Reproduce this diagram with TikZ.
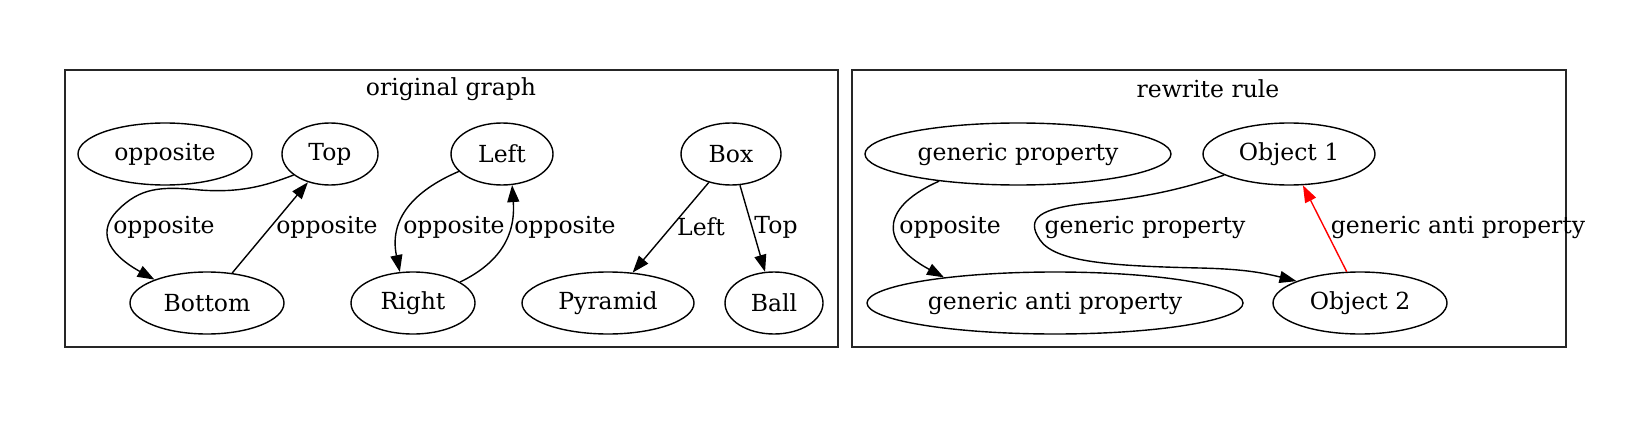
\documentclass[tikz,border=0pt]{standalone}
\usepackage{fontspec}
\setmainfont{DejaVu Serif}
\usetikzlibrary{arrows.meta,shapes.geometric}
\begin{document}
\begin{tikzpicture}[x=1pt,y=-1pt,
  every node/.style={font=\fontsize{23.5}{28}\selectfont},
  nd/.style={ellipse,draw,line width=1.4pt,inner sep=0pt,minimum height=62pt},
  lbl/.style={inner sep=0pt,anchor=center},
  cluster/.style={draw,line width=1.6pt,color=black!85},
  edge/.style={line width=1.4pt,-{Triangle[length=17pt,width=12pt]}},
  redge/.style={edge,red},
]
\useasboundingbox (0,0) rectangle (1637,425);
% clusters
\draw[cluster] (65,70) rectangle (838,347);
\draw[cluster] (852,70) rectangle (1566,347);
\node[lbl] (t1) at (451,89) {original graph};
\node[lbl] (t2) at (1208,89) {rewrite rule};
% left nodes
\node[nd,minimum width=174pt] (opp) at (165,154) {opposite};
\node[nd,minimum width=96pt] (Top) at (330,154) {Top};
\node[nd,minimum width=154pt] (Bottom) at (207,303) {Bottom};
\node[nd,minimum width=102pt] (Left) at (502,154) {Left};
\node[nd,minimum width=124pt] (Right) at (413,303) {Right};
\node[nd,minimum width=100pt] (Box) at (731,154) {Box};
\node[nd,minimum width=172pt] (Pyr) at (608,303) {Pyramid};
\node[nd,minimum width=98pt] (Ball) at (774,303) {Ball};
% right nodes
\node[nd,minimum width=306pt] (gp) at (1018,154) {generic property};
\node[nd,minimum width=172pt] (O1) at (1289,154) {Object 1};
\node[nd,minimum width=376pt] (gap) at (1055,303) {generic anti property};
\node[nd,minimum width=174pt] (O2) at (1360,303) {Object 2};
% edges left
\draw[edge] (Top.210) .. controls (265,186) and (240,193) .. (200,190)
  .. controls (160,186) and (140,188) .. (118,210)
  .. controls (98,230) and (105,252) .. (Bottom.156);
\node[lbl] (l1) at (164,227) {opposite};
\draw[edge] (Bottom.50) -- (Top.232);
\node[lbl] (l2) at (327,227) {opposite};
\draw[edge] (Left.202) .. controls (420,188) and (388,215) .. (Right.113);
\node[lbl] (l3) at (454,227) {opposite};
\draw[edge] (Right.24) .. controls (495,265) and (516,240) .. (Left.288);
\node[lbl] (l4) at (565,227) {opposite};
\draw[edge] (Box.232) -- (Pyr.51);
\node[lbl] (l5) at (701,227) {Left};
\draw[edge] (Box.286) -- (Ball.106);
\node[lbl] (l6) at (776,227) {Top};
% edges right
\draw[edge] (gp.199) .. controls (885,205) and (875,240) .. (gap.167);
\node[lbl] (l7) at (950,227) {opposite};
\draw[edge] (O1.198) .. controls (1185,188) and (1150,197) .. (1090,203)
  .. controls (1040,208) and (1025,218) .. (1040,240)
  .. controls (1055,262) and (1110,266) .. (1200,268)
  .. controls (1240,269) and (1260,272) .. (O2.161);
\node[lbl] (l8) at (1145,227) {generic property};
\draw[redge] (O2.113) -- (O1.294);
\node[lbl] (l9) at (1458,227) {generic anti property};
\end{tikzpicture}
\end{document}
